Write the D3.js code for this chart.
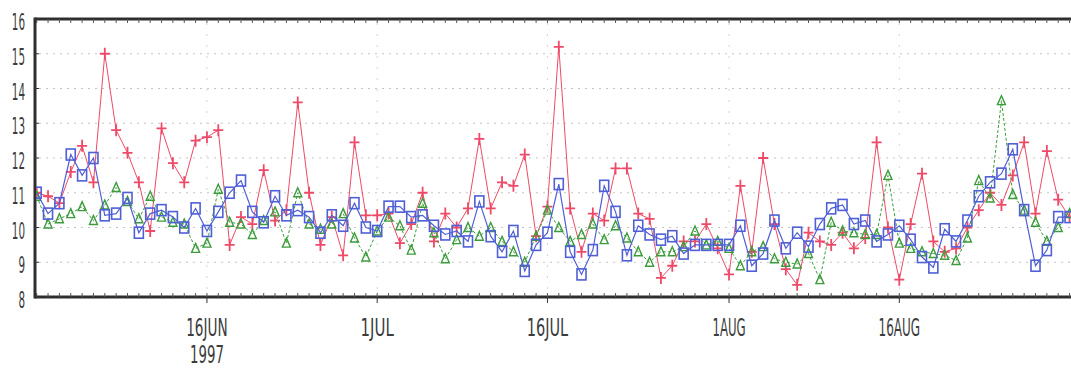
<!DOCTYPE html>
<html>
<head>
<meta charset="utf-8">
<script src="https://cdn.jsdelivr.net/npm/d3@7"></script>
<style>
  body { margin: 0; background: #fff; }
  svg { display: block; }
</style>
</head>
<body>
<div id="chart"></div>
<script>
// daily readings, 1 Jun 1997 .. 31 Aug 1997
const startDate = new Date(1997, 5, 1);
const endDate = new Date(1997, 8, 1);

const redSeries = [
  11.0, 10.9, 10.7, 11.6, 12.35, 11.3, 15.0, 12.8, 12.15, 11.3,
  9.9, 12.85, 11.85, 11.3, 12.5, 12.6, 12.8, 9.5, 10.3, 10.1,
  11.65, 10.2, 10.5, 13.6, 11.0, 9.5, 10.3, 9.2, 12.45, 10.35,
  10.35, 10.4, 9.55, 10.1, 11.0, 9.6, 10.4, 10.0, 10.55, 12.55,
  10.55, 11.3, 11.2, 12.1, 9.75, 10.6, 15.2, 10.55, 9.3, 10.4,
  10.2, 11.7, 11.7, 10.4, 10.25, 8.55, 8.9, 9.6, 9.6, 10.1,
  9.4, 8.65, 11.2, 9.3, 12.0, 10.1, 8.8, 8.35, 9.85, 9.6,
  9.5, 9.85, 9.4, 9.7, 12.45, 10.0, 8.5, 10.1, 11.55, 9.6,
  9.3, 9.4, 10.0, 10.5, 11.0, 10.65, 11.5, 12.45, 10.4, 12.2,
  10.8, 10.3
];

const greenSeries = [
  10.9, 10.1, 10.25, 10.4, 10.6, 10.2, 10.65, 11.15, 10.75, 10.25,
  10.9, 10.3, 10.15, 10.1, 9.4, 9.55, 11.1, 10.15, 10.1, 9.8,
  10.2, 10.45, 9.55, 11.0, 10.1, 9.95, 10.1, 10.4, 9.7, 9.15,
  9.9, 10.3, 10.05, 9.35, 10.7, 9.85, 9.1, 9.65, 10.0, 9.75,
  10.0, 9.6, 9.3, 9.0, 9.75, 10.5, 10.0, 9.6, 9.8, 10.1,
  9.65, 10.05, 9.7, 9.3, 9.0, 9.3, 9.3, 9.45, 9.9, 9.5,
  9.6, 9.4, 8.9, 9.3, 9.45, 9.1, 9.0, 8.95, 9.25, 8.5,
  10.15, 9.9, 9.85, 9.8, 9.8, 11.5, 9.55, 9.4, 9.3, 9.25,
  9.2, 9.05, 9.7, 11.35, 10.85, 13.65, 10.95, 10.5, 10.15, 9.6,
  10.0, 10.4
];

const blueSeries = [
  11.0, 10.4, 10.7, 12.1, 11.5, 12.0, 10.35, 10.4, 10.85, 9.85,
  10.4, 10.5, 10.3, 10.0, 10.55, 9.9, 10.45, 11.0, 11.35, 10.45,
  10.15, 10.9, 10.35, 10.5, 10.3, 9.85, 10.35, 10.05, 10.7, 10.0,
  9.9, 10.6, 10.6, 10.3, 10.35, 10.05, 9.8, 9.9, 9.6, 10.75,
  9.75, 9.3, 9.9, 8.75, 9.5, 9.85, 11.25, 9.3, 8.65, 9.35,
  11.2, 10.45, 9.2, 10.05, 9.8, 9.65, 9.75, 9.25, 9.5, 9.5,
  9.5, 9.5, 10.05, 8.9, 9.25, 10.2, 9.4, 9.85, 9.45, 10.1,
  10.55, 10.65, 10.1, 10.2, 9.6, 9.8, 10.05, 9.65, 9.15, 8.85,
  9.95, 9.6, 10.2, 10.9, 11.3, 11.55, 12.25, 10.5, 8.9, 9.35,
  10.3, 10.3
];

const yTicks = [8, 9, 10, 11, 12, 13, 14, 15, 16];
const xTickDates = [new Date(1997, 5, 16), new Date(1997, 6, 1), new Date(1997, 6, 16),
                    new Date(1997, 7, 1), new Date(1997, 7, 16)];
const xTickLabels = ['16JUN', '1JUL', '16JUL', '1AUG', '16AUG'];

const width = 1071, height = 370;
const plotLeft = 35, plotTop = 19, plotBottom = 297;
const dayPx = 11.35;
const x0 = 36.7;

const dates = d3.timeDay.range(startDate, endDate);

const x = d3.scaleTime()
  .domain([startDate, endDate])
  .range([x0, x0 + dates.length * dayPx]);
const y = d3.scaleLinear().domain([8, 16]).range([plotBottom, plotTop]);

const svg = d3.select('#chart').append('svg')
  .attr('width', width)
  .attr('height', height)
  .style('font-family', '"DejaVu Sans", sans-serif');

// dotted grid
svg.append('g').selectAll('line')
  .data(yTicks.slice(1, -1))
  .enter().append('line')
  .attr('x1', plotLeft + 4).attr('x2', width)
  .attr('y1', d => y(d)).attr('y2', d => y(d))
  .attr('stroke', '#c4c4c4')
  .attr('stroke-dasharray', '2,5');

svg.append('g').selectAll('line')
  .data(xTickDates)
  .enter().append('line')
  .attr('x1', d => x(d)).attr('x2', d => x(d))
  .attr('y1', plotTop + 4).attr('y2', plotBottom - 4)
  .attr('stroke', '#d6d6d6')
  .attr('stroke-dasharray', '2,9');

// frame: top and bottom carry a little tick per day
const frame = svg.append('g');
[plotTop, plotBottom].forEach(yy => {
  frame.append('line')
    .attr('x1', plotLeft).attr('x2', width)
    .attr('y1', yy).attr('y2', yy)
    .attr('stroke', '#2e2e2e').attr('stroke-width', 3);
  frame.selectAll(null)
    .data(dates)
    .enter().append('line')
    .attr('x1', d => x(d)).attr('x2', d => x(d))
    .attr('y1', yy).attr('y2', yy === plotTop ? yy + 4 : yy - 4)
    .attr('stroke', '#555').attr('stroke-width', 1);
});
frame.append('line')
  .attr('x1', plotLeft).attr('x2', plotLeft)
  .attr('y1', plotTop - 1.5).attr('y2', plotBottom + 1.5)
  .attr('stroke', '#2e2e2e').attr('stroke-width', 3);

// y ticks and labels
svg.append('g').selectAll('line')
  .data(yTicks)
  .enter().append('line')
  .attr('x1', plotLeft).attr('x2', plotLeft + 4)
  .attr('y1', d => y(d)).attr('y2', d => y(d))
  .attr('stroke', '#333');

svg.append('g').selectAll('text')
  .data(yTicks)
  .enter().append('text')
  .attr('x', 25)
  .attr('y', d => y(d) + 11)
  .attr('text-anchor', 'end')
  .attr('font-size', 23)
  .attr('fill', '#3c3c3c')
  .attr('textLength', d => String(d).length * 6.6)
  .attr('lengthAdjust', 'spacingAndGlyphs')
  .text(d => d);

// x ticks and labels
svg.append('g').selectAll('line')
  .data(xTickDates)
  .enter().append('line')
  .attr('x1', d => x(d)).attr('x2', d => x(d))
  .attr('y1', plotBottom).attr('y2', plotBottom + 6)
  .attr('stroke', '#333');

svg.append('g').selectAll('text')
  .data(xTickDates)
  .enter().append('text')
  .attr('x', d => x(d))
  .attr('y', 336)
  .attr('text-anchor', 'middle')
  .attr('font-size', 25)
  .attr('fill', '#3c3c3c')
  .attr('textLength', (d, i) => xTickLabels[i].length * 8.3)
  .attr('lengthAdjust', 'spacingAndGlyphs')
  .text((d, i) => xTickLabels[i]);

svg.append('text')
  .attr('x', x(xTickDates[0]))
  .attr('y', 363)
  .attr('text-anchor', 'middle')
  .attr('font-size', 25)
  .attr('fill', '#3c3c3c')
  .attr('textLength', 34)
  .attr('lengthAdjust', 'spacingAndGlyphs')
  .text('1997');

// series
const series = [
  { name: 'red', values: redSeries, color: '#ee4a68', dash: null, width: 1, symbol: 'plus' },
  { name: 'green', values: greenSeries, color: '#3c9c3c', dash: '3,2', width: 1, symbol: 'triangle' },
  { name: 'blue', values: blueSeries, color: '#4f5fd6', dash: null, width: 1.2, symbol: 'square' }
];

const line = d3.line()
  .x((d, i) => x(dates[i]))
  .y(d => y(d));

const plot = svg.append('g');
plot.append('clipPath').attr('id', 'clip')
  .append('rect').attr('x', plotLeft + 1).attr('y', 0).attr('width', width).attr('height', height);

series.forEach(s => {
  const g = plot.append('g').attr('clip-path', 'url(#clip)');
  g.append('path')
    .datum(s.values)
    .attr('d', line)
    .attr('fill', 'none')
    .attr('stroke', s.color)
    .attr('stroke-width', s.width)
    .attr('stroke-dasharray', s.dash);

  const pts = g.selectAll('.pt')
    .data(s.values)
    .enter().append('g')
    .attr('transform', (d, i) => `translate(${x(dates[i])},${y(d)})`);

  if (s.symbol === 'plus') {
    pts.append('path')
      .attr('d', 'M-5,0H5M0,-6V6')
      .attr('stroke', s.color).attr('stroke-width', 1.8);
  } else if (s.symbol === 'triangle') {
    pts.append('path')
      .attr('d', 'M0,-5L4,4H-4Z')
      .attr('fill', 'none')
      .attr('stroke', s.color).attr('stroke-width', 1.4);
  } else {
    pts.append('rect')
      .attr('x', -4.5).attr('y', -5.5)
      .attr('width', 9).attr('height', 11)
      .attr('fill', 'none')
      .attr('stroke', s.color).attr('stroke-width', 1.6);
  }
});
</script>
</body>
</html>
